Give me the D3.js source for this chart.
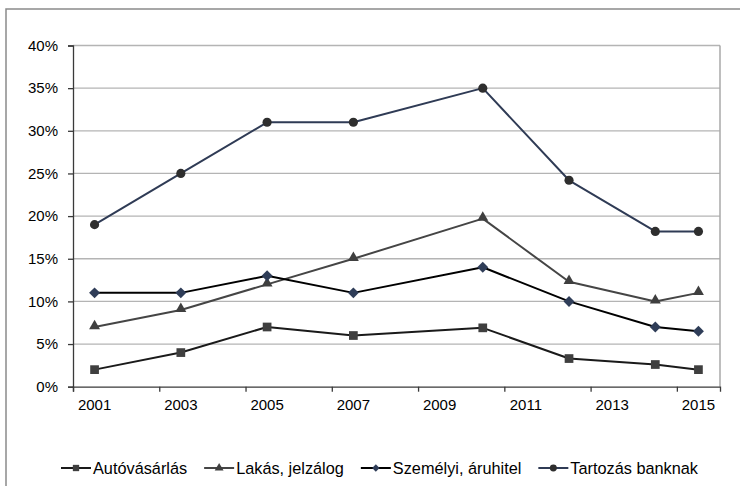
<!DOCTYPE html>
<html>
<head>
<meta charset="utf-8">
<script src="https://cdn.jsdelivr.net/npm/d3@7"></script>
<style>
  html, body { margin: 0; padding: 0; background: #fff; }
  svg { display: block; }
  text { font-family: "Liberation Sans", Arial, sans-serif; fill: #000; }
</style>
</head>
<body>
<svg id="chart" width="740" height="486"></svg>
<script>
// Survey years
const years = [2001, 2003, 2005, 2007, 2010, 2012, 2014, 2015];

// Share of households (%) per purpose
const autovasarlas = [2.0, 4.0, 7.0, 6.0, 6.9, 3.3, 2.6, 2.0];
const lakasJelzalog = [7.0, 9.0, 12.0, 15.0, 19.7, 12.3, 10.0, 11.0];
const szemelyiAruhitel = [11.0, 11.0, 13.0, 11.0, 14.0, 10.0, 7.0, 6.5];
const tartozasBanknak = [19.0, 25.0, 31.0, 31.0, 35.0, 24.2, 18.2, 18.2];

const seriesNames = ["Autóvásárlás", "Lakás, jelzálog", "Személyi, áruhitel", "Tartozás banknak"];

// Axis labels
const yTickValues = [0, 5, 10, 15, 20, 25, 30, 35, 40];
const xTickLabels = [2001, 2003, 2005, 2007, 2009, 2011, 2013, 2015];

// Square rotated by 45°, sized by area like the built-in symbols
const squareDiamond = {
  draw(context, size) {
    const r = Math.sqrt(size / 2);
    context.moveTo(0, -r);
    context.lineTo(r, 0);
    context.lineTo(0, r);
    context.lineTo(-r, 0);
    context.closePath();
  }
};

const series = [
  { name: seriesNames[0], values: autovasarlas, line: "#1a1a1a", fill: "#3f3f3f", symbol: d3.symbolSquare, size: 76, lsize: 40 },
  { name: seriesNames[1], values: lakasJelzalog, line: "#454545", fill: "#3f3f3f", symbol: d3.symbolTriangle, size: 52, lsize: 34 },
  { name: seriesNames[2], values: szemelyiAruhitel, line: "#000000", fill: "#2f3d58", symbol: squareDiamond, size: 60, lsize: 28 },
  { name: seriesNames[3], values: tartozasBanknak, line: "#2f3b55", fill: "#2e2e2e", symbol: d3.symbolCircle, size: 66, lsize: 38 }
];

const svg = d3.select("#chart");

// Outer chart frame (right and bottom edges fall outside the view)
svg.append("path")
  .attr("d", "M6,790 L6,9 L900,9")
  .attr("fill", "none")
  .attr("stroke", "#8a8a8a")
  .attr("stroke-width", 1.5);

const plot = { left: 73, right: 720, top: 45.5, bottom: 386.7 };

const x = d3.scaleLinear().domain([2000.5, 2015.5]).range([plot.left, plot.right]);
const y = d3.scaleLinear().domain([0, 40]).range([plot.bottom, plot.top]);

// Horizontal gridlines
svg.append("g")
  .selectAll("line")
  .data(yTickValues.filter(v => v > 0))
  .join("line")
  .attr("x1", plot.left).attr("x2", plot.right)
  .attr("y1", d => y(d)).attr("y2", d => y(d))
  .attr("stroke", "#b4b4b4")
  .attr("stroke-width", 1.3);

// Right border of the plot area
svg.append("line")
  .attr("x1", plot.right).attr("x2", plot.right)
  .attr("y1", plot.top).attr("y2", plot.bottom)
  .attr("stroke", "#a8a8a8")
  .attr("stroke-width", 1.5);

// Y axis
const yAxis = d3.axisLeft(y)
  .tickValues(yTickValues)
  .tickSize(5)
  .tickPadding(10)
  .tickFormat(d => d + "%");
const gy = svg.append("g").attr("transform", `translate(${plot.left},0)`).call(yAxis);
gy.select(".domain").attr("stroke", "#3a3a3a").attr("stroke-width", 1.3);
gy.selectAll(".tick line").attr("stroke", "#3a3a3a").attr("stroke-width", 1.3);
gy.selectAll(".tick text").attr("font-size", 15).attr("font-family", "Liberation Sans, Arial, sans-serif").attr("fill", "#000");

// X axis: tick marks between years, labels under the odd years
const xTickMarks = d3.range(2000.5, 2015, 2);
const xAxisMarks = d3.axisBottom(x).tickValues(xTickMarks).tickSize(5).tickFormat("");
const gx = svg.append("g").attr("transform", `translate(0,${plot.bottom})`).call(xAxisMarks);
gx.select(".domain").attr("stroke", "#3a3a3a").attr("stroke-width", 1.3);
gx.selectAll(".tick line").attr("stroke", "#3a3a3a").attr("stroke-width", 1.3);

svg.append("g")
  .selectAll("text")
  .data(xTickLabels)
  .join("text")
  .attr("x", d => x(d))
  .attr("y", 410)
  .attr("text-anchor", "middle")
  .attr("font-size", 15)
  .text(d => d);

// Series lines and markers
const line = d3.line().x((d, i) => x(years[i])).y(d => y(d));

series.forEach(s => {
  svg.append("path")
    .datum(s.values)
    .attr("d", line)
    .attr("fill", "none")
    .attr("stroke", s.line)
    .attr("stroke-width", 2)
    .attr("stroke-linejoin", "round");
});

series.forEach(s => {
  const sym = d3.symbol().type(s.symbol).size(s.size);
  const dy = s.symbol === d3.symbolTriangle ? -1 : 0;
  svg.append("g")
    .selectAll("path")
    .data(s.values)
    .join("path")
    .attr("d", sym)
    .attr("transform", (d, i) => `translate(${x(years[i])},${y(d) + dy})`)
    .attr("fill", s.fill);
});

// Legend
const legend = svg.append("g").attr("transform", "translate(0,468)");
let lx = 61;
series.forEach(s => {
  const g = legend.append("g").attr("transform", `translate(${lx},0)`);
  g.append("line")
    .attr("x1", 0).attr("x2", 30).attr("y1", 0).attr("y2", 0)
    .attr("stroke", s.line).attr("stroke-width", 2);
  g.append("path")
    .attr("d", d3.symbol().type(s.symbol).size(s.lsize))
    .attr("transform", "translate(15,0)")
    .attr("fill", s.fill);
  const t = g.append("text")
    .attr("x", 32).attr("y", 6)
    .attr("font-size", 16.3)
    .text(s.name);
  lx += 32 + t.node().getComputedTextLength() + 17;
});
</script>
</body>
</html>
